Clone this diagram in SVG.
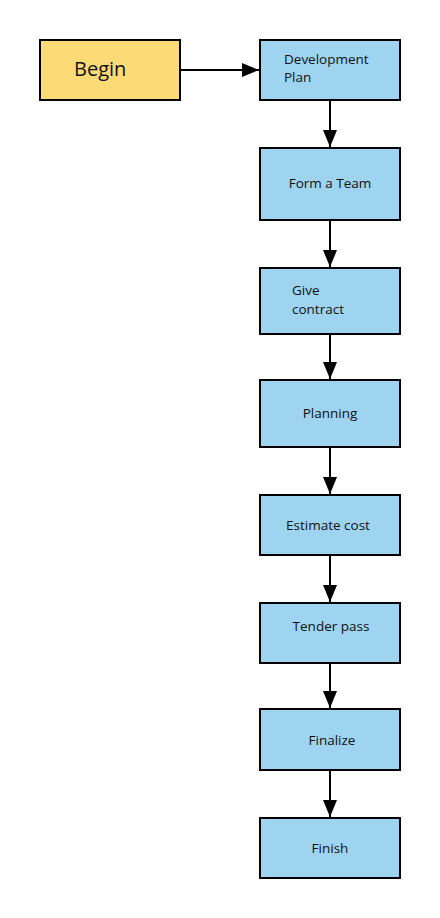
<svg xmlns="http://www.w3.org/2000/svg" width="440" height="918" viewBox="0 0 440 918">
<style>
.box{stroke:#000;stroke-width:2}
.y{fill:#FCDB77}
.b{fill:#9ED4F0}
text{font-family:"Open Sans","Noto Sans","Liberation Sans",sans-serif;font-size:13.5px;fill:#111}
.c{text-anchor:middle}
.big{font-size:20px}
.ln{stroke:#000;stroke-width:2;fill:none}
</style>
<defs>
<marker id="ah" markerWidth="18" markerHeight="14" refX="17" refY="7" orient="auto" markerUnits="userSpaceOnUse">
<path d="M0,0 L17,7 L0,14 Z" fill="#000"/>
</marker>
</defs>
<rect width="440" height="918" fill="#fff"/>
<g id="connectors">
<line class="ln" x1="181" y1="70" x2="259" y2="70" marker-end="url(#ah)"/>
<line class="ln" x1="330" y1="101" x2="330" y2="147" marker-end="url(#ah)"/>
<line class="ln" x1="330" y1="221" x2="330" y2="267" marker-end="url(#ah)"/>
<line class="ln" x1="330" y1="335" x2="330" y2="379" marker-end="url(#ah)"/>
<line class="ln" x1="330" y1="448" x2="330" y2="494" marker-end="url(#ah)"/>
<line class="ln" x1="330" y1="556" x2="330" y2="602" marker-end="url(#ah)"/>
<line class="ln" x1="330" y1="664" x2="330" y2="708" marker-end="url(#ah)"/>
<line class="ln" x1="330" y1="771" x2="330" y2="817" marker-end="url(#ah)"/>
</g>
<g id="begin"><rect class="box y" x="40" y="40" width="140" height="60"/><text class="big" x="74" y="76">Begin</text></g>
<g id="development-plan"><rect class="box b" x="260" y="40" width="140" height="60"/><text x="284" y="64">Development</text><text x="284" y="82">Plan</text></g>
<g id="form-a-team"><rect class="box b" x="260" y="148" width="140" height="72"/><text class="c" x="330" y="188">Form a Team</text></g>
<g id="give-contract"><rect class="box b" x="260" y="268" width="140" height="66"/><text x="292" y="295">Give</text><text x="292" y="314">contract</text></g>
<g id="planning"><rect class="box b" x="260" y="380" width="140" height="67"/><text class="c" x="330" y="418">Planning</text></g>
<g id="estimate-cost"><rect class="box b" x="260" y="495" width="140" height="60"/><text class="c" x="328" y="530">Estimate cost</text></g>
<g id="tender-pass"><rect class="box b" x="260" y="603" width="140" height="60"/><text class="c" x="331" y="631">Tender pass</text></g>
<g id="finalize"><rect class="box b" x="260" y="709" width="140" height="61"/><text class="c" x="332" y="745">Finalize</text></g>
<g id="finish"><rect class="box b" x="260" y="818" width="140" height="60"/><text class="c" x="330" y="853">Finish</text></g>
</svg>
